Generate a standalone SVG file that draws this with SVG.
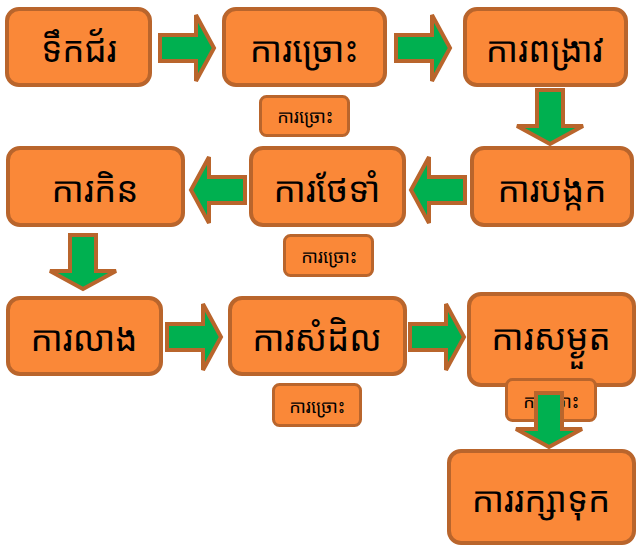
<svg xmlns="http://www.w3.org/2000/svg" xmlns:xlink="http://www.w3.org/1999/xlink" width="637" height="551" viewBox="0 0 637 551">
<defs>
<style>
.node{fill:#FA8838;stroke:#B9652C;stroke-width:4}
.small{fill:#FA8838;stroke:#B9652C;stroke-width:3}
.arrow{fill:#00B050;stroke:#B9652C;stroke-width:4;stroke-linejoin:miter}
.t{font-family:"Noto Sans Khmer","Khmer OS","Liberation Sans",sans-serif;font-size:35px;fill:#000;text-anchor:middle;dominant-baseline:central}
.ts{font-family:"Noto Sans Khmer","Khmer OS","Liberation Sans",sans-serif;font-size:18px;fill:#000;text-anchor:middle;dominant-baseline:central}
</style>
<path id="arr" d="M2,-13 L38,-13 L38,-33 L56,0 L38,33 L38,13 L2,13 Z"/>
</defs>
<rect width="637" height="551" fill="#fff"/>
<g id="n1"><rect class="node" x="7" y="9" width="143" height="76" rx="12"/><text class="t" x="79" y="48">ទឹកជ័រ</text></g>
<g id="n2"><rect class="node" x="224" y="9" width="161" height="76" rx="12"/><text class="t" x="304" y="48">ការច្រោះ</text></g>
<g id="n3"><rect class="node" x="465" y="9" width="161" height="76" rx="12"/><text class="t" x="545" y="48">ការពង្រាវ</text></g>
<g id="s1"><rect class="small" x="260.5" y="96.5" width="88" height="39" rx="6"/><text class="ts" x="305" y="116">ការច្រោះ</text></g>
<g id="n4"><rect class="node" x="472" y="148" width="160" height="77" rx="12"/><text class="t" x="552" y="188">ការបង្កក</text></g>
<g id="n5"><rect class="node" x="251" y="148" width="153" height="77" rx="12"/><text class="t" x="327" y="188">ការថែទាំ</text></g>
<g id="n6"><rect class="node" x="8" y="148" width="175" height="77" rx="12"/><text class="t" x="95" y="188">ការកិន</text></g>
<g id="s2"><rect class="small" x="284.5" y="235.5" width="88" height="40" rx="6"/><text class="ts" x="329" y="256">ការច្រោះ</text></g>
<g id="n7"><rect class="node" x="8" y="298" width="153" height="76" rx="12"/><text class="t" x="84" y="337">ការលាង</text></g>
<g id="n8"><rect class="node" x="230" y="298" width="175" height="76" rx="12"/><text class="t" x="317" y="337">ការសំដិល</text></g>
<g id="s3"><rect class="small" x="273.5" y="384.5" width="87" height="41" rx="6"/><text class="ts" x="317" y="406">ការច្រោះ</text></g>
<g id="n9"><rect class="node" x="469" y="294" width="165" height="91" rx="12"/><text class="t" x="551" y="336">ការសម្ងួត</text></g>
<g id="s4"><rect class="small" x="506.5" y="379.5" width="89" height="41" rx="6"/><text class="ts" x="551" y="401">ការច្រោះ</text></g>
<g id="n10"><rect class="node" x="449" y="451" width="185" height="92" rx="12"/><text class="t" x="541" y="498">ការរក្សាទុក</text></g>
<g id="connectors">
<use xlink:href="#arr" class="arrow" transform="translate(158,48)"/>
<use xlink:href="#arr" class="arrow" transform="translate(394,48)"/>
<use xlink:href="#arr" class="arrow" transform="translate(550,88) rotate(90)"/>
<use xlink:href="#arr" class="arrow" transform="translate(467,190) rotate(180)"/>
<use xlink:href="#arr" class="arrow" transform="translate(247,190) rotate(180)"/>
<use xlink:href="#arr" class="arrow" transform="translate(83,233) rotate(90)"/>
<use xlink:href="#arr" class="arrow" transform="translate(165,337)"/>
<use xlink:href="#arr" class="arrow" transform="translate(408,337)"/>
<use xlink:href="#arr" class="arrow" transform="translate(549,391) rotate(90)"/>
</g>
</svg>
